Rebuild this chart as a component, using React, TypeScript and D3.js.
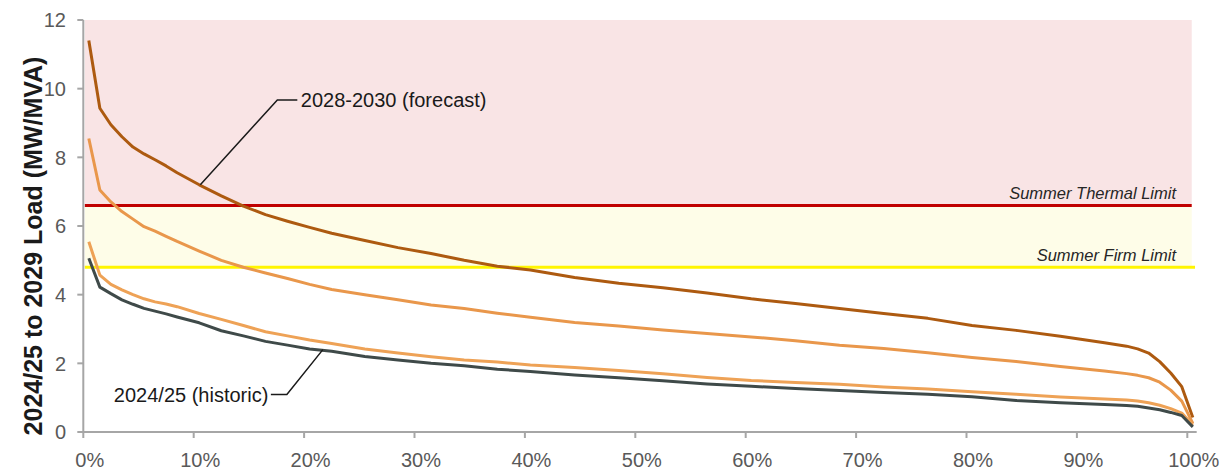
import React from "react";
import * as d3 from "d3";

// ---- Data ----
const pct: number[] = [0.5, 1.5, 2.5, 3.5, 4.5, 5.5, 6.5, 7.5, 8.5, 10.5, 12.5, 14.5, 16.5, 18.5, 20.5, 22.5, 25.5, 28.5, 31.5, 34.5, 37.5, 40.5, 44.5, 48.5, 52.5, 56.5, 60.5, 64.5, 68.5, 72.5, 76.5, 80.5, 84.5, 88.5, 92.5, 94.5, 95.5, 96.5, 97.5, 98.5, 99.5, 100.5];

const forecast2028: number[] = [11.4, 9.43, 8.95, 8.6, 8.3, 8.1, 7.93, 7.75, 7.55, 7.2, 6.88, 6.58, 6.33, 6.14, 5.96, 5.79, 5.58, 5.37, 5.2, 5.0, 4.83, 4.72, 4.5, 4.33, 4.2, 4.05, 3.88, 3.74, 3.6, 3.45, 3.31, 3.1, 2.96, 2.79, 2.6, 2.5, 2.42, 2.3, 2.05, 1.72, 1.32, 0.42];

const upperOrange: number[] = [8.55, 7.05, 6.7, 6.42, 6.2, 5.98, 5.85, 5.7, 5.55, 5.27, 5.0, 4.8, 4.63, 4.47, 4.3, 4.15, 4.0, 3.85, 3.7, 3.6, 3.46, 3.34, 3.19, 3.09, 2.97, 2.87, 2.77, 2.66, 2.53, 2.43, 2.31, 2.17, 2.05, 1.91, 1.78, 1.7, 1.65, 1.58, 1.45, 1.22, 0.9, 0.25];

const lowerOrange: number[] = [5.54, 4.57, 4.3, 4.14, 4.0, 3.88, 3.79, 3.73, 3.65, 3.45, 3.28, 3.1, 2.92, 2.8, 2.68, 2.58, 2.42, 2.3, 2.19, 2.1, 2.04, 1.95, 1.88, 1.79, 1.7, 1.59, 1.5, 1.44, 1.39, 1.31, 1.25, 1.17, 1.1, 1.02, 0.96, 0.93, 0.9, 0.85, 0.78, 0.68, 0.55, 0.2];

const historic2024: number[] = [5.06, 4.22, 4.03, 3.85, 3.72, 3.6, 3.52, 3.44, 3.35, 3.18, 2.95, 2.8, 2.64, 2.53, 2.42, 2.35, 2.2, 2.1, 2.0, 1.93, 1.83, 1.76, 1.66, 1.58, 1.49, 1.4, 1.33, 1.27, 1.21, 1.15, 1.1, 1.03, 0.92, 0.85, 0.8, 0.77, 0.75, 0.7, 0.65, 0.57, 0.48, 0.15];

const yTicks: number[] = [0, 2, 4, 6, 8, 10, 12];
const xTicks: number[] = [0, 10, 20, 30, 40, 50, 60, 70, 80, 90, 100];

const thermalLimit = 6.6;
const firmLimit = 4.8;
const yMax = 12;

const forecastLabel = "2028-2030 (forecast)";
const historicLabel = "2024/25 (historic)";
const thermalLabel = "Summer Thermal Limit";
const firmLabel = "Summer Firm Limit";
const yTitle = "2024/25 to 2029 Load (MW/MVA)";

// annotation anchors (data coordinates)
const forecastAnchor = { p: 10.6, v: 7.2 };
const historicAnchor = { p: 21.7, v: 2.4 };

export default function App() {
  const W = 1231;
  const H = 472;
  const x = d3.scaleLinear().domain([0, 100]).range([83.3, 1187.3]);
  const y = d3.scaleLinear().domain([0, yMax]).range([432, 20]);

  const line = (vals: number[]) =>
    d3
      .line<number>()
      .x((_, i) => x(pct[i]))
      .y((d) => y(d))(vals) as string;

  const series = [
    { vals: forecast2028, color: "#AD5A10" },
    { vals: upperOrange, color: "#E9974B" },
    { vals: lowerOrange, color: "#EEA256" },
    { vals: historic2024, color: "#3F4A49" },
  ];

  const axisColor = "#A6A6A6";
  const tickText = "#595959";
  const font = "'Liberation Sans', Arial, sans-serif";

  const bandLeft = x(0) + 1.5;
  const bandRight = x(100.4);

  const fa = { x: x(forecastAnchor.p), y: y(forecastAnchor.v) };
  const ha = { x: x(historicAnchor.p), y: y(historicAnchor.v) };

  return (
    <svg
      width={W}
      height={H}
      style={{ position: "absolute", left: 0, top: 0, background: "#fff" }}
      fontFamily={font}
    >
      {/* bands */}
      <rect x={bandLeft} y={y(yMax)} width={bandRight - bandLeft} height={y(thermalLimit) - y(yMax)} fill="#F9E4E5" />
      <rect x={bandLeft} y={y(thermalLimit)} width={bandRight - bandLeft} height={y(firmLimit) - y(thermalLimit)} fill="#FEFDE8" />

      {/* limit lines */}
      <line x1={bandLeft} x2={bandRight} y1={y(thermalLimit)} y2={y(thermalLimit)} stroke="#C00000" strokeWidth={3} />
      <line x1={bandLeft} x2={x(100.7)} y1={y(firmLimit)} y2={y(firmLimit)} stroke="#FFF500" strokeWidth={3} />

      <text x={1176} y={y(thermalLimit) - 6.5} textAnchor="end" fontSize={16.5} fontStyle="italic" fill="#262626">
        {thermalLabel}
      </text>
      <text x={1176} y={y(firmLimit) - 6.5} textAnchor="end" fontSize={16.5} fontStyle="italic" fill="#262626">
        {firmLabel}
      </text>

      {/* axes */}
      <line x1={x(0)} x2={x(0)} y1={y(yMax)} y2={y(0)} stroke={axisColor} strokeWidth={2} />
      <line x1={x(0)} x2={x(100.85)} y1={y(0)} y2={y(0)} stroke={axisColor} strokeWidth={2} />
      {yTicks.map((t) => (
        <g key={"y" + t}>
          <line x1={x(0) - 6} x2={x(0)} y1={y(t)} y2={y(t)} stroke={axisColor} strokeWidth={2} />
          <text x={66} y={y(t)} dy="0.36em" textAnchor="end" fontSize={20} fill={tickText}>
            {t}
          </text>
        </g>
      ))}
      {xTicks.map((t) => (
        <g key={"x" + t}>
          <line x1={x(t)} x2={x(t)} y1={y(0)} y2={y(0) + 6} stroke={axisColor} strokeWidth={2} />
          <text x={x(t) + 6.5} y={467} textAnchor="middle" fontSize={20} fill={tickText}>
            {t + "%"}
          </text>
        </g>
      ))}

      {/* y title */}
      <text
        transform={`translate(33, 246) rotate(-90)`}
        textAnchor="middle"
        dy="0.36em"
        fontSize={25}
        fontWeight="bold"
        fill="#1a1a1a"
      >
        {yTitle}
      </text>

      {/* series */}
      {series.map((s, i) => (
        <path key={i} d={line(s.vals)} fill="none" stroke={s.color} strokeWidth={3} strokeLinejoin="round" />
      ))}

      {/* annotations */}
      <polyline
        points={`${fa.x},${fa.y} ${fa.x + 77},100 ${fa.x + 97},100`}
        fill="none"
        stroke="#1a1a1a"
        strokeWidth={1.5}
      />
      <text x={fa.x + 100.5} y={107} fontSize={20} fill="#1a1a1a">
        {forecastLabel}
      </text>
      <polyline
        points={`${ha.x},${ha.y} ${ha.x - 36},394.5 ${ha.x - 52},394.5`}
        fill="none"
        stroke="#1a1a1a"
        strokeWidth={1.5}
      />
      <text x={ha.x - 54.5} y={401.5} textAnchor="end" fontSize={20} fill="#1a1a1a">
        {historicLabel}
      </text>
    </svg>
  );
}
